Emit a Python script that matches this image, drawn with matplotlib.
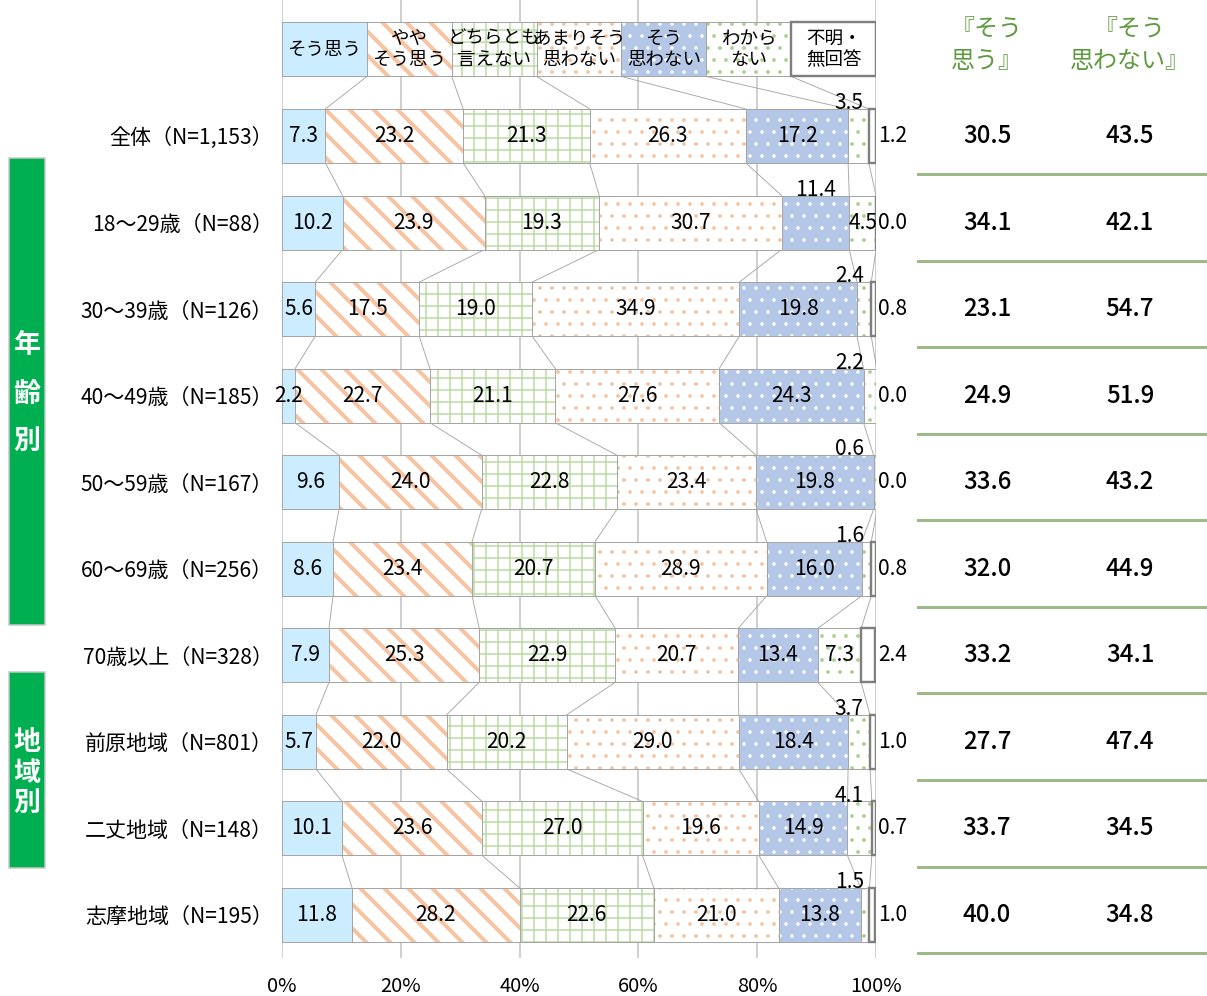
import matplotlib
matplotlib.use("Agg")
import matplotlib.pyplot as plt
from matplotlib.patches import Rectangle
from matplotlib.lines import Line2D
from matplotlib.transforms import blended_transform_factory
import numpy as np

plt.rcParams['font.family'] = ['Noto Sans CJK JP', 'DejaVu Sans']

# ---------------- data ----------------
categories = ['全体（N=1,153）', '18～29歳（N=88）', '30～39歳（N=126）', '40～49歳（N=185）',
              '50～59歳（N=167）', '60～69歳（N=256）', '70歳以上（N=328）',
              '前原地域（N=801）', '二丈地域（N=148）', '志摩地域（N=195）']
legend_labels = ['そう思う', 'やや\nそう思う', 'どちらとも\n言えない', 'あまりそう\n思わない',
                 'そう\n思わない', 'わから\nない', '不明・\n無回答']
s_yes      = [7.3, 10.2, 5.6, 2.2, 9.6, 8.6, 7.9, 5.7, 10.1, 11.8]
s_some     = [23.2, 23.9, 17.5, 22.7, 24.0, 23.4, 25.3, 22.0, 23.6, 28.2]
s_neutral  = [21.3, 19.3, 19.0, 21.1, 22.8, 20.7, 22.9, 20.2, 27.0, 22.6]
s_notmuch  = [26.3, 30.7, 34.9, 27.6, 23.4, 28.9, 20.7, 29.0, 19.6, 21.0]
s_no       = [17.2, 11.4, 19.8, 24.3, 19.8, 16.0, 13.4, 18.4, 14.9, 13.8]
s_dk       = [3.5, 4.5, 2.4, 2.2, 0.6, 1.6, 7.3, 3.7, 4.1, 1.5]
s_na       = [1.2, 0.0, 0.8, 0.0, 0.0, 0.8, 2.4, 1.0, 0.7, 1.0]
agree_total    = [30.5, 34.1, 23.1, 24.9, 33.6, 32.0, 33.2, 27.7, 33.7, 40.0]
disagree_total = [43.5, 42.1, 54.7, 51.9, 43.2, 44.9, 34.1, 47.4, 34.5, 34.8]
header_agree = '『そう\n思う』'
header_disagree = '『そう\n思わない』'
xtick_labels = ['0%', '20%', '40%', '60%', '80%', '100%']
# which series label sits above the bar in each row (small segments)
above_series = [5, 4, 5, 5, 5, 5, None, 5, 5, 5]

series = [s_yes, s_some, s_neutral, s_notmuch, s_no, s_dk, s_na]

# ---------------- style ----------------
W, H = 1207, 996
DPI = 72
fills   = ['#CCECFF', 'white', 'white', 'white', '#B4C7E7', 'white', 'white']
hatches = [None, '\\', '+', '.', '.', '.', None]
hcolors = [None, '#F7C4A2', '#BDDDA8', '#F6C4A0', 'white', '#A9D18E', None]
hwidths = [0, 4.0, 1.6, 1.3, 1.0, 1.3, 0]
edgec   = ['#A6A6A6'] * 6 + ['#7F7F7F']
edgew   = [1.0] * 6 + [2.2]
BAR_H = 0.624

fig = plt.figure(figsize=(W / DPI, H / DPI), dpi=DPI)
row_px0, row_sp = 136.0, 86.56
y_top = -row_px0 / row_sp
y_bot = (958 - row_px0) / row_sp
ax = fig.add_axes([282 / W, 1 - 958 / H, 594 / W, 958 / H])
ax.set_xlim(0, 100)
ax.set_ylim(y_bot, y_top)

n = len(categories)
rows = np.arange(n)
vals = np.array(series).T  # n x 7
cum = np.cumsum(vals, axis=1)
lefts = cum - vals

# legend row as an extra equal-width bar at y=-1
leg_vals = np.full(7, 100 / 7)
leg_cum = np.cumsum(leg_vals)
leg_left = leg_cum - leg_vals


def draw_segments(ypos, widths, lefts_, k):
    ax.barh(ypos, widths, left=lefts_, height=BAR_H, color=fills[k],
            edgecolor=edgec[k], linewidth=edgew[k], zorder=3)
    if hatches[k]:
        with plt.rc_context({'hatch.linewidth': hwidths[k]}):
            bars = ax.barh(ypos, widths, left=lefts_, height=BAR_H, color='none',
                           edgecolor=hcolors[k], linewidth=0, hatch=hatches[k], zorder=4)
        for p in bars.patches:
            if hasattr(p, 'set_hatch_linewidth'):
                p.set_hatch_linewidth(hwidths[k])
    ax.barh(ypos, widths, left=lefts_, height=BAR_H, color='none',
            edgecolor=edgec[k], linewidth=edgew[k], zorder=5)


for k in range(7):
    draw_segments(rows, vals[:, k], lefts[:, k], k)
    draw_segments([-1], [leg_vals[k]], [leg_left[k]], k)
    ax.text(leg_left[k] + leg_vals[k] / 2, -1, legend_labels[k], ha='center', va='center',
            fontsize=18.5, color='black', zorder=6, linespacing=1.25)

# series lines
all_cum = np.vstack([leg_cum, cum])
all_rows = np.concatenate([[-1], rows])
for r in range(len(all_rows) - 1):
    for k in range(6):
        ax.plot([all_cum[r, k], all_cum[r + 1, k]],
                [all_rows[r] + BAR_H / 2, all_rows[r + 1] - BAR_H / 2],
                color='#A6A6A6', lw=0.9, zorder=2)

# value labels
VFS = 21
for i in range(n):
    for k in range(7):
        v = vals[i, k]
        c = lefts[i, k] + v / 2
        if k == 6:
            ax.text(100.3, i, f'{v:.1f}', ha='left', va='center', fontsize=VFS, zorder=7)
        elif above_series[i] == k:
            ax.text(min(c, 95.5), i - 0.38, f'{v:.1f}', ha='center', va='center',
                    fontsize=VFS, zorder=7)
        else:
            ax.text(c, i, f'{v:.1f}', ha='center', va='center', fontsize=VFS, zorder=7)

# axes styling
ax.set_xticks([0, 20, 40, 60, 80, 100])
ax.set_xticklabels(xtick_labels, fontsize=20)
ax.set_yticks(rows)
ax.set_yticklabels(categories, fontsize=21)
ax.tick_params(axis='y', length=0, pad=9)
ax.tick_params(axis='x', length=0, pad=18)
ax.grid(axis='x', color='#D0D0D0', lw=2, zorder=0)
ax.set_axisbelow(True)
for s in ax.spines.values():
    s.set_visible(False)
ax.patch.set_alpha(0)

# right-hand summary columns
tr = blended_transform_factory(fig.transFigure, ax.transData)
green_txt = '#5E9B3E'
for i in range(n):
    ax.text(987 / W, i, f'{agree_total[i]:.1f}', transform=tr, ha='center', va='center',
            fontsize=24, fontweight='medium', color='black')
    ax.text(1130 / W, i, f'{disagree_total[i]:.1f}', transform=tr, ha='center', va='center',
            fontsize=24, fontweight='medium', color='black')
    fig.add_artist(Line2D([918 / W, 1.0], [i + 0.44, i + 0.44], transform=tr,
                          color='#9DBA87', lw=3))
fig.text(987 / W, 1 - 45 / H, header_agree, ha='center', va='center', fontsize=24,
         color=green_txt, linespacing=1.35, multialignment='center')
fig.text(1130 / W, 1 - 45 / H, header_disagree, ha='center', va='center', fontsize=24,
         color=green_txt, linespacing=1.35, multialignment='center')

# green group boxes
def group_box(y0, y1, chars, ys):
    fig.add_artist(Rectangle((9 / W, 1 - y1 / H), 36 / W, (y1 - y0) / H,
                             transform=fig.transFigure, facecolor='#00B050',
                             edgecolor='#C8C8C8', lw=1.5))
    for ch, yy in zip(chars, ys):
        fig.text(27 / W, 1 - yy / H, ch, ha='center', va='center', fontsize=27,
                 fontweight='bold', color='white')

group_box(158, 625, '年齢別', [345, 394, 441])
group_box(672, 868, '地域別', [742, 773, 803])

fig.savefig('out.png', dpi=DPI)
